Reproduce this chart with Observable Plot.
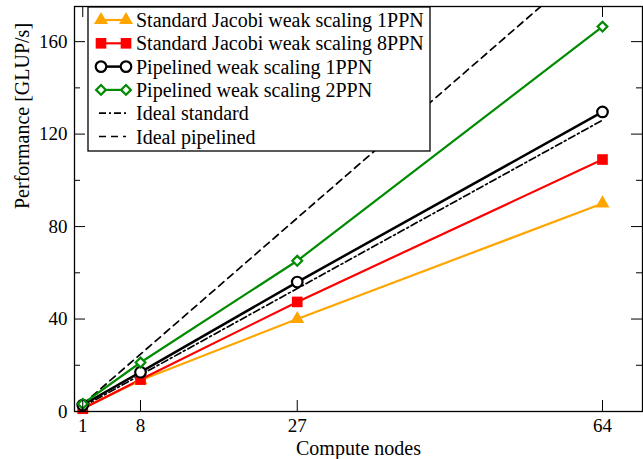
<!DOCTYPE html>
<html>
<head>
<meta charset="utf-8">
<script src="https://cdn.jsdelivr.net/npm/d3@7"></script>
<script src="https://cdn.jsdelivr.net/npm/@observablehq/plot@0.6"></script>
<style>
  html, body { margin: 0; padding: 0; background: #fff; }
  #chart svg { display: block; }
</style>
</head>
<body>
<div id="chart"></div>
<script>
// ---- data ----
const nodes = [1, 8, 27, 64];
const std1PPN = [1.3, 13.5, 40, 90];
const std8PPN = [1.2, 13.8, 47.4, 109];
const pip1PPN = [2.8, 17, 56, 129.6];
const pip2PPN = [3.3, 21.2, 65.2, 166.5];
const idealStd = [2, 15.8, 53.2, 126];
const idealPip = [3.1, 24.8, 83.7, 198.4];

const seriesNames = [
  "Standard Jacobi weak scaling 1PPN",
  "Standard Jacobi weak scaling 8PPN",
  "Pipelined weak scaling 1PPN",
  "Pipelined weak scaling 2PPN",
  "Ideal standard",
  "Ideal pipelined"
];
const xTicks = [1, 8, 27, 64];
const yMajor = [0, 40, 80, 120, 160];
const yMinor = [20, 60, 100, 140];
const xLabel = "Compute nodes";
const yLabel = "Performance [GLUP/s]";

// ---- styles ----
const W = 643, H = 459;
const mL = 74, mR = 1, mT = 6, mB = 48;
const pw = W - mL - mR, ph = H - mT - mB;
const font = "'Liberation Serif', 'Times New Roman', serif";
const orange = "#FFA500", red = "#FF0000", green = "#008B00";
const dashPip = "7,5", dashStd = "7,3,2,3";
const dashW = 1.7;
const majorLen = 11, minorLen = 6;

const series = [
  {vals: std1PPN, color: orange, symbol: "triangle", fill: orange, r: 5.2, sw: 2.2},
  {vals: std8PPN, color: red, symbol: "square", fill: red, r: 6.0, sw: 2.2},
  {vals: pip1PPN, color: "black", symbol: "circle", fill: "white", r: 5.3, sw: 2.5},
  {vals: pip2PPN, color: green, symbol: "diamond2", fill: "white", r: 4.4, sw: 2.2}
];

const marks = [];
// ideal lines
marks.push(Plot.line(nodes, {x: nodes, y: idealStd, stroke: "black", strokeWidth: dashW, strokeDasharray: dashStd}));
marks.push(Plot.line(nodes, {x: nodes, y: idealPip, stroke: "black", strokeWidth: dashW, strokeDasharray: dashPip, clip: true}));
for (const s of series) {
  marks.push(Plot.line(nodes, {x: nodes, y: s.vals, stroke: s.color, strokeWidth: s.sw}));
}
for (const s of series) {
  marks.push(Plot.dot(nodes, {x: nodes, y: s.vals, symbol: () => s.symbol, r: s.r,
    fill: s.fill, stroke: s.color, strokeWidth: s.fill === "white" ? 2.2 : 0}));
}
// inward ticks
marks.push(Plot.tickY(yMajor, {y: d => d, insetRight: pw - majorLen, stroke: "black", strokeWidth: 1}));
marks.push(Plot.tickY(yMinor, {y: d => d, insetRight: pw - minorLen, stroke: "black", strokeWidth: 1}));
marks.push(Plot.tickY(yMajor, {y: d => d, insetLeft: pw - majorLen, stroke: "black", strokeWidth: 1}));
marks.push(Plot.tickY(yMinor, {y: d => d, insetLeft: pw - minorLen, stroke: "black", strokeWidth: 1}));
marks.push(Plot.tickX(xTicks, {x: d => d, insetTop: ph - majorLen, stroke: "black", strokeWidth: 1}));
marks.push(Plot.tickX(xTicks, {x: d => d, insetBottom: ph - majorLen, stroke: "black", strokeWidth: 1}));
// axes labels
marks.push(Plot.axisX(xTicks, {tickSize: 0, tickPadding: 7, label: null, fontSize: 19, tickFormat: d => String(d)}));
marks.push(Plot.axisY(yMajor, {tickSize: 0, tickPadding: 7, label: null, fontSize: 19, tickFormat: d => String(d)}));
marks.push(Plot.text([xLabel], {frameAnchor: "bottom", dy: 37, fontSize: 20, text: d => d, lineAnchor: "middle"}));
marks.push(Plot.text([yLabel], {frameAnchor: "left", dx: -52, rotate: -90, fontSize: 20, text: d => d, lineAnchor: "middle"}));
marks.push(Plot.frame({stroke: "black", strokeWidth: 1.3}));

const chart = Plot.plot({
  width: W, height: H,
  marginLeft: mL, marginRight: mR, marginTop: mT, marginBottom: mB,
  style: {fontFamily: font, fontSize: "19px", background: "white", color: "black"},
  x: {domain: [0, 68.85], axis: null},
  y: {domain: [0, 175.2], axis: null},
  marks
});
document.getElementById("chart").appendChild(chart);

// ---- legend (inside plot, top-left) ----
const svg = d3.select(chart);
const lg = svg.append("g").attr("font-family", font).attr("font-size", 20).attr("text-anchor", "start");
const lx = 88, ly = mT + 1, lw = 342, lh = 144;
lg.append("rect").attr("x", lx).attr("y", ly).attr("width", lw).attr("height", lh)
  .attr("fill", "white").attr("stroke", "black").attr("stroke-width", 1.3);
const rowY = i => 20 + i * 23.3;
const sx1 = 101, sx2 = 126, tx = 136;
const symMap = {triangle: d3.symbolTriangle, square: d3.symbolSquare, circle: d3.symbolCircle, diamond2: d3.symbolDiamond2};
seriesNames.forEach((name, i) => {
  const y = rowY(i);
  if (i < 4) {
    const s = series[i];
    lg.append("line").attr("x1", sx1).attr("x2", sx2).attr("y1", y).attr("y2", y)
      .attr("stroke", s.color).attr("stroke-width", s.sw);
    for (const x of [sx1, sx2]) {
      lg.append("path").attr("d", d3.symbol(symMap[s.symbol], Math.PI * s.r * s.r)())
        .attr("transform", `translate(${x},${y})`)
        .attr("fill", s.fill).attr("stroke", s.fill === "white" ? s.color : "none")
        .attr("stroke-width", 2.2);
    }
  } else {
    lg.append("line").attr("x1", sx1 - 2).attr("x2", sx2).attr("y1", y).attr("y2", y)
      .attr("stroke", "black").attr("stroke-width", dashW)
      .attr("stroke-dasharray", i === 4 ? dashStd : dashPip);
  }
  lg.append("text").attr("x", tx).attr("y", y).attr("dy", "0.35em").attr("fill", "black")
    .attr("text-anchor", "start").text(name);
});
</script>
</body>
</html>
